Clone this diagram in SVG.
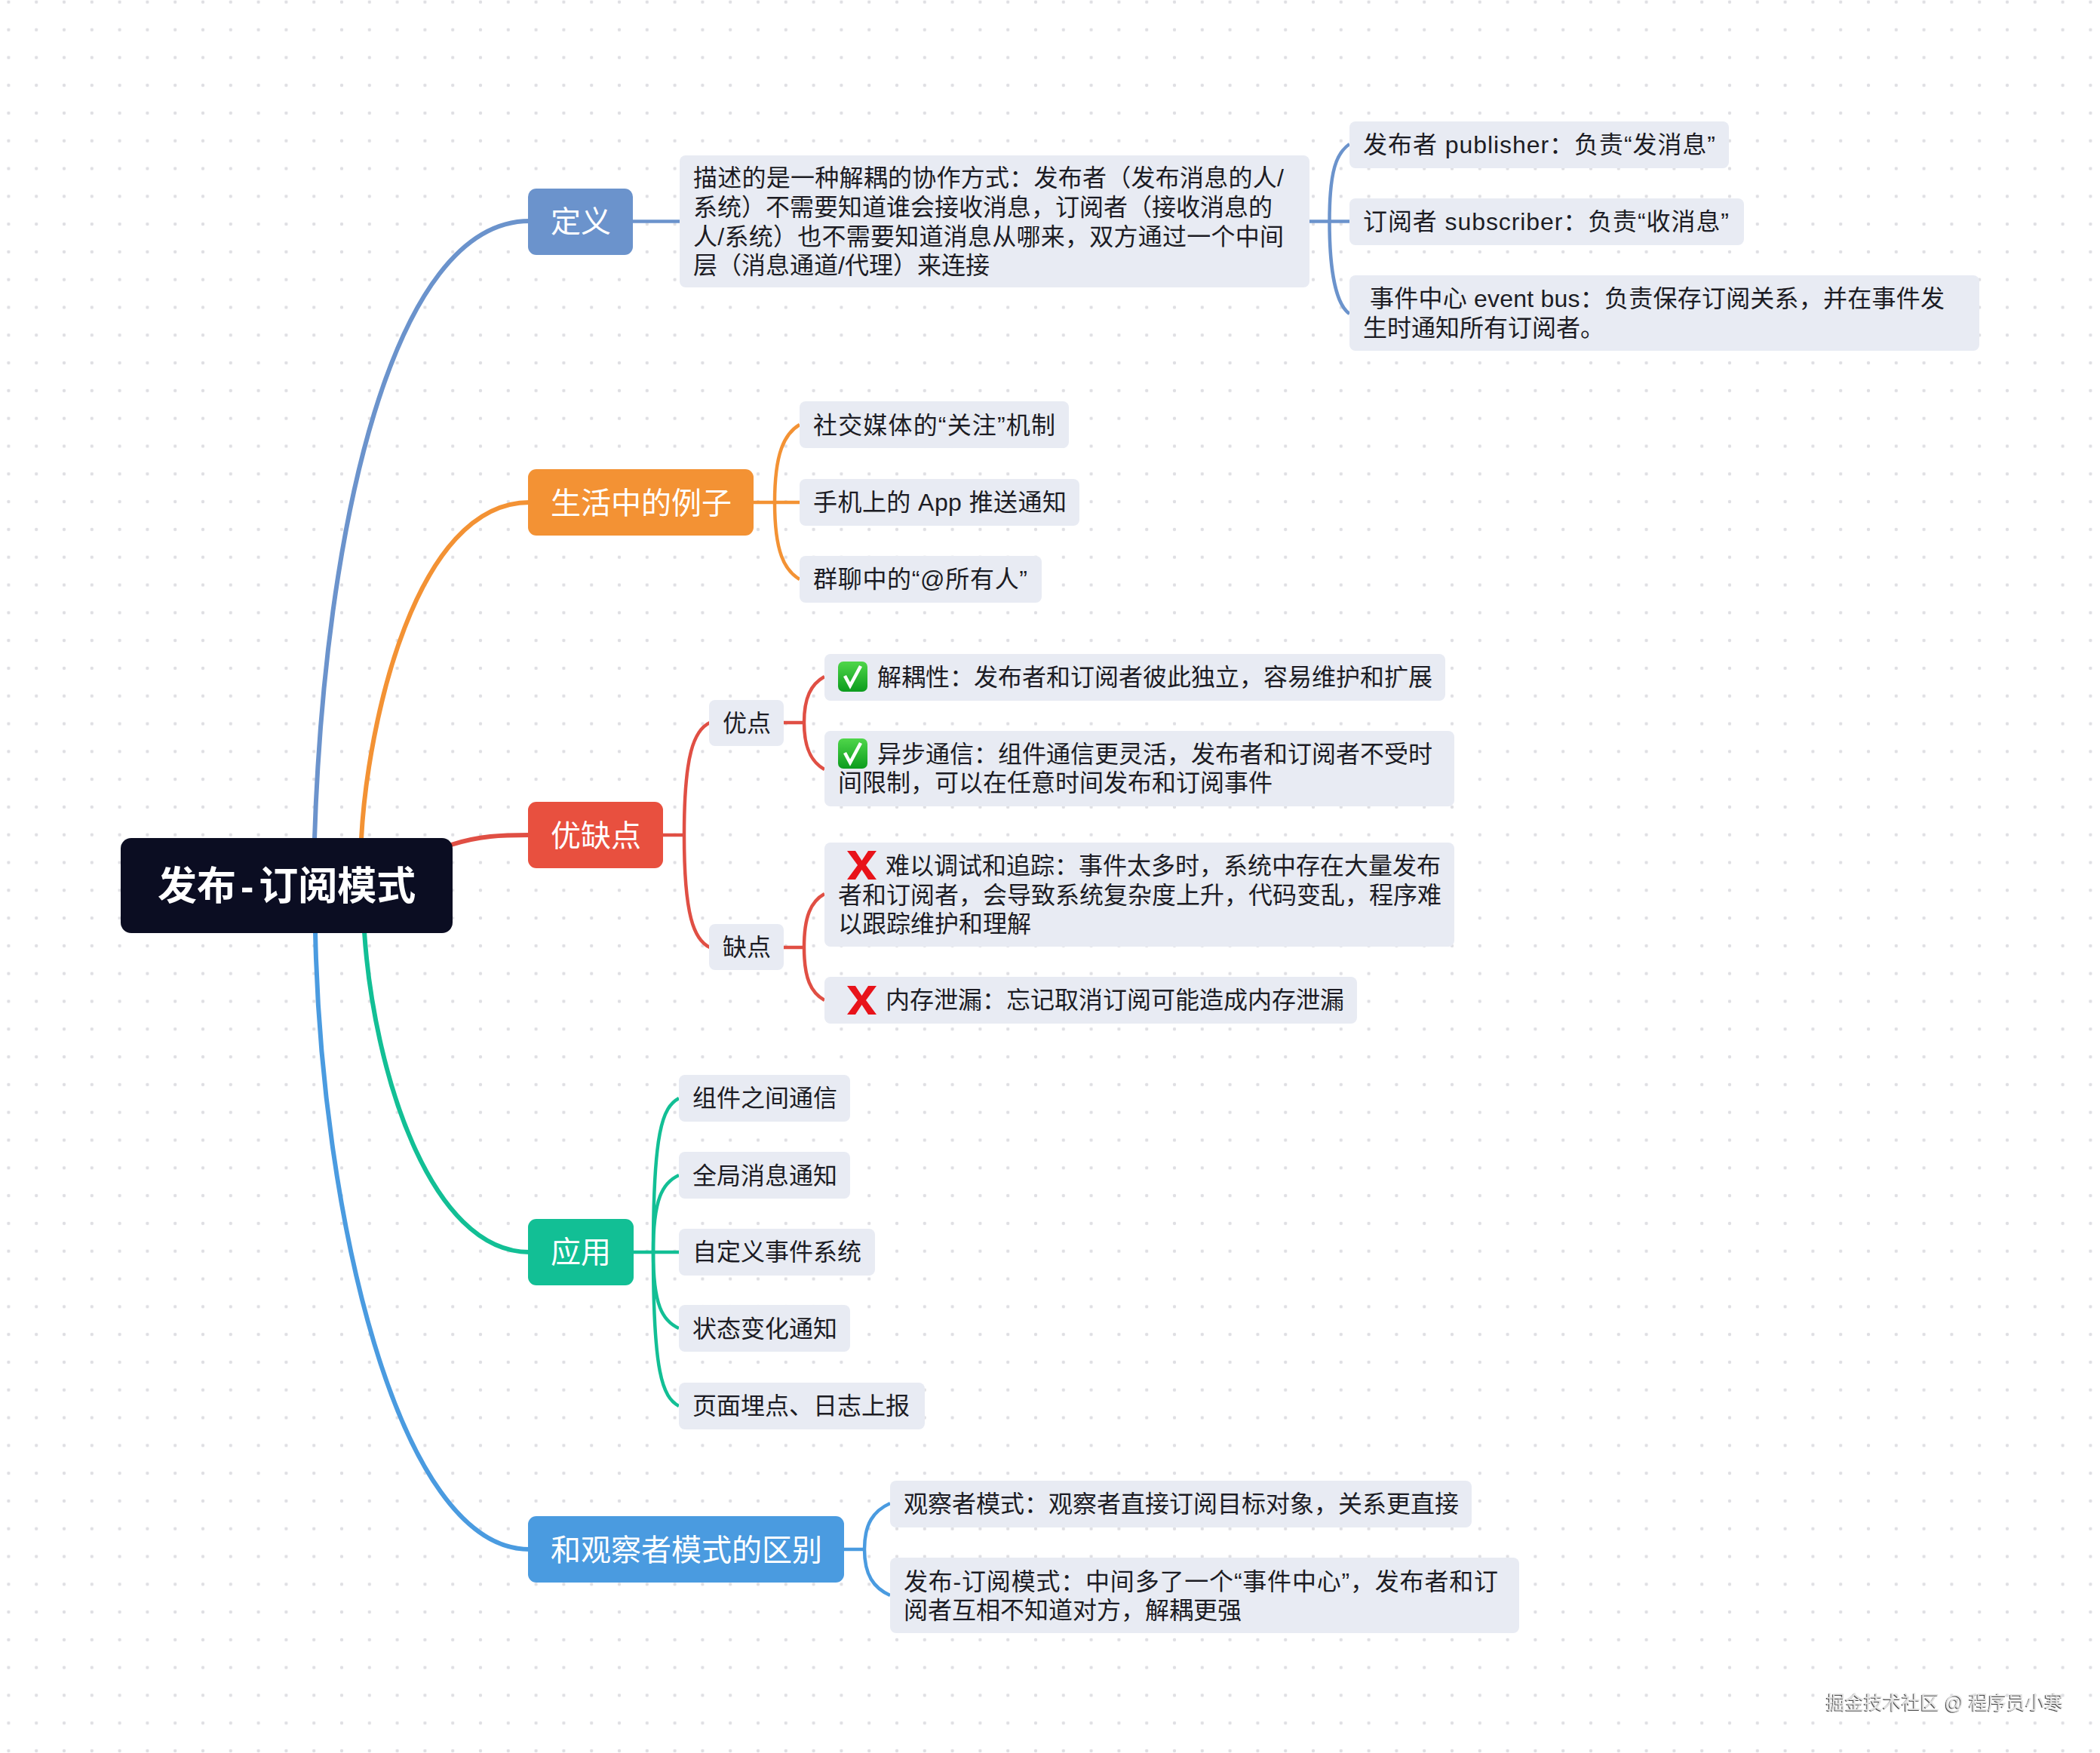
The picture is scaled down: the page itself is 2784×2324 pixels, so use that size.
<svg xmlns="http://www.w3.org/2000/svg" width="2784" height="2324" viewBox="0 0 2784 2324">
<defs>
<pattern id="dots" x="11.4" y="2.7" width="36.8" height="36.8" patternUnits="userSpaceOnUse"><circle cx="0" cy="0" r="2.2" fill="#dfdfe3"/><circle cx="36.8" cy="0" r="2.2" fill="#dfdfe3"/><circle cx="0" cy="36.8" r="2.2" fill="#dfdfe3"/><circle cx="36.8" cy="36.8" r="2.2" fill="#dfdfe3"/></pattern>
<filter id="emboss" x="-5%" y="-20%" width="110%" height="140%"><feDropShadow dx="-1.2" dy="1" stdDeviation="0.4" flood-color="#444"/></filter>
<linearGradient id="gr" x1="0" y1="0" x2="0" y2="1"><stop offset="0" stop-color="#4fd64a"/><stop offset="1" stop-color="#0c9c1e"/></linearGradient>
<g id="check"><rect width="39" height="40" rx="7" fill="url(#gr)"/><path d="M9,19 L16,32 L30,6" fill="none" stroke="#fff" stroke-width="4.5"/></g>
<path id="cross" d="M0,0 H11 L19.500,13 L28,0 H39 L25,19 L39,38 H28 L19.500,25 L11,38 H0 L14,19 Z" fill="#e8131a"/>
</defs>
<style>
text{font-family:"Liberation Sans","Noto Sans CJK SC",sans-serif;white-space:pre}
.leaf{fill:#e8ebf3}
.t{font-size:32px;fill:#1c1c24}
.m{font-size:40px;fill:#fff}
.r{font-size:52px;font-weight:700;fill:#fff}
.wm{font-size:25px;fill:#e4e4e4;filter:url(#emboss)}
#connectors path{fill:none;stroke-linecap:butt}
.w1{stroke-width:6}.w2{stroke-width:4.5}
.c1{stroke:#6b93cc}.c2{stroke:#f39234}.c3{stroke:#e04f44}.c4{stroke:#12bf95}.c5{stroke:#4a9be0}
</style>
<rect width="2784" height="2324" fill="#fff"/>
<rect width="2784" height="2324" fill="url(#dots)"/>

<g id="connectors">
<path class="c1 w1" d="M417,1112 C430,700 520,293 702,293"/>
<path class="c2 w1" d="M479,1112 C487,960 550,666 702,666"/>
<path class="c3 w1" d="M598,1120 C635,1108 665,1107 702,1107"/>
<path class="c4 w1" d="M483,1235 C495,1420 570,1660 702,1660"/>
<path class="c5 w1" d="M418,1235 C425,1600 525,2054 702,2054"/>

<path class="c1 w2" d="M839,293.500H901"/>
<path class="c1 w2" d="M1735,293.500H1789"/>
<path class="c1 w2" d="M1789,191 C1772,203 1762.500,225 1762.500,293.500 C1762.500,362 1772,404 1789,416"/>

<path class="c2 w2" d="M999,666H1060"/>
<path class="c2 w2" d="M1060,563 C1040,575 1027,600 1027,666 C1027,732 1040,756 1060,768"/>

<path class="c3 w2" d="M879,1107H907"/>
<path class="c3 w2" d="M941,958 C920,968 907,1000 907,1107 C907,1214 920,1246 941,1256"/>
<path class="c3 w2" d="M1039,958H1066"/>
<path class="c3 w2" d="M1093,897 C1075,907 1066,925 1066,958 C1066,991 1075,1010 1093,1020"/>
<path class="c3 w2" d="M1039,1256H1066"/>
<path class="c3 w2" d="M1093,1185 C1075,1195 1066,1215 1066,1256 C1066,1297 1075,1316 1093,1326"/>

<path class="c4 w2" d="M840,1660H900"/>
<path class="c4 w2" d="M900,1456 C878,1468 866,1500 866,1660 C866,1820 878,1852 900,1864"/>
<path class="c4 w2" d="M900,1558 C878,1568 866,1590 866,1660 C866,1730 878,1751 900,1761"/>

<path class="c5 w2" d="M1119,2054H1146"/>
<path class="c5 w2" d="M1180,1993 C1158,2003 1146,2020 1146,2054 C1146,2088 1158,2105 1180,2115"/>
</g>

<g id="root"><rect x="160" y="1111" width="440" height="126" rx="14" fill="#0b0d22"/><text class="r" x="209" y="1193">发布<tspan dx="6">-</tspan><tspan dx="7">订阅模式</tspan></text></g>

<g id="n-def"><rect x="700" y="250" width="139" height="88" rx="11" fill="#6b93cc"/><text class="m" x="730" y="308">定义</text></g>
<g id="n-def-desc"><rect class="leaf" x="901" y="206" width="835" height="175" rx="8"/>
<text class="t"><tspan x="919" y="247" textLength="783">描述的是一种解耦的协作方式：发布者（发布消息的人/</tspan><tspan x="919" y="286">系统）不需要知道谁会接收消息，订阅者（接收消息的</tspan><tspan x="919" y="325" textLength="783">人/系统）也不需要知道消息从哪来，双方通过一个中间</tspan><tspan x="919" y="363">层（消息通道/代理）来连接</tspan></text></g>
<g id="n-def-pub"><rect class="leaf" x="1789" y="161" width="503" height="62" rx="8"/><text class="t" x="1807" y="203" textLength="467">发布者 publisher：负责“发消息”</text></g>
<g id="n-def-sub"><rect class="leaf" x="1789" y="263" width="523" height="62" rx="8"/><text class="t" x="1807" y="305" textLength="485">订阅者 subscriber：负责“收消息”</text></g>
<g id="n-def-bus"><rect class="leaf" x="1789" y="365" width="835" height="100" rx="8"/>
<text class="t"><tspan x="1816" y="407" textLength="762">事件中心 event bus：负责保存订阅关系，并在事件发</tspan><tspan x="1807" y="446">生时通知所有订阅者。</tspan></text></g>

<g id="n-life"><rect x="700" y="622" width="299" height="88" rx="11" fill="#f39234"/><text class="m" x="730" y="681">生活中的例子</text></g>
<g id="n-life-1"><rect class="leaf" x="1060" y="532" width="357" height="62" rx="8"/><text class="t" x="1078" y="575" textLength="321">社交媒体的“关注”机制</text></g>
<g id="n-life-2"><rect class="leaf" x="1060" y="635" width="371" height="62" rx="8"/><text class="t" x="1078" y="677" textLength="336">手机上的 App 推送通知</text></g>
<g id="n-life-3"><rect class="leaf" x="1060" y="737" width="321" height="62" rx="8"/><text class="t" x="1078" y="779" textLength="284">群聊中的“@所有人”</text></g>

<g id="n-pc"><rect x="700" y="1063" width="179" height="88" rx="11" fill="#e8503f"/><text class="m" x="730" y="1122">优缺点</text></g>
<g id="n-pro"><rect class="leaf" x="940" y="928" width="99" height="61" rx="8"/><text class="t" x="958" y="970">优点</text></g>
<g id="n-con"><rect class="leaf" x="940" y="1225" width="99" height="61" rx="8"/><text class="t" x="958" y="1267">缺点</text></g>
<g id="n-pro-1"><rect class="leaf" x="1093" y="867" width="823" height="62" rx="8"/><use href="#check" x="1111" y="877"/><text class="t" x="1163" y="909">解耦性：发布者和订阅者彼此独立，容易维护和扩展</text></g>
<g id="n-pro-2"><rect class="leaf" x="1093" y="969" width="835" height="100" rx="8"/><use href="#check" x="1111" y="979"/>
<text class="t"><tspan x="1163" y="1011">异步通信：组件通信更灵活，发布者和订阅者不受时</tspan><tspan x="1111" y="1049">间限制，可以在任意时间发布和订阅事件</tspan></text></g>
<g id="n-con-1"><rect class="leaf" x="1093" y="1117" width="835" height="138" rx="8"/><use href="#cross" x="1123" y="1128"/>
<text class="t"><tspan x="1174" y="1159">难以调试和追踪：事件太多时，系统中存在大量发布</tspan><tspan x="1111" y="1198">者和订阅者，会导致系统复杂度上升，代码变乱，程序难</tspan><tspan x="1111" y="1236">以跟踪维护和理解</tspan></text></g>
<g id="n-con-2"><rect class="leaf" x="1093" y="1295" width="706" height="62" rx="8"/><use href="#cross" x="1123" y="1307"/><text class="t" x="1174" y="1337">内存泄漏：忘记取消订阅可能造成内存泄漏</text></g>

<g id="n-app"><rect x="700" y="1616" width="140" height="88" rx="11" fill="#12bf95"/><text class="m" x="730" y="1674">应用</text></g>
<g id="n-app-1"><rect class="leaf" x="900" y="1425" width="227" height="62" rx="8"/><text class="t" x="918" y="1467">组件之间通信</text></g>
<g id="n-app-2"><rect class="leaf" x="900" y="1527" width="227" height="62" rx="8"/><text class="t" x="918" y="1570">全局消息通知</text></g>
<g id="n-app-3"><rect class="leaf" x="900" y="1629" width="260" height="62" rx="8"/><text class="t" x="918" y="1671">自定义事件系统</text></g>
<g id="n-app-4"><rect class="leaf" x="900" y="1730" width="227" height="62" rx="8"/><text class="t" x="918" y="1773">状态变化通知</text></g>
<g id="n-app-5"><rect class="leaf" x="900" y="1833" width="326" height="62" rx="8"/><text class="t" x="918" y="1875">页面埋点、日志上报</text></g>

<g id="n-diff"><rect x="700" y="2010" width="419" height="88" rx="11" fill="#4a9be0"/><text class="m" x="730" y="2069">和观察者模式的区别</text></g>
<g id="n-diff-1"><rect class="leaf" x="1180" y="1963" width="771" height="62" rx="8"/><text class="t" x="1198" y="2005">观察者模式：观察者直接订阅目标对象，关系更直接</text></g>
<g id="n-diff-2"><rect class="leaf" x="1180" y="2065" width="834" height="100" rx="8"/>
<text class="t"><tspan x="1198" y="2108" textLength="788">发布-订阅模式：中间多了一个“事件中心”，发布者和订</tspan><tspan x="1198" y="2146">阅者互相不知道对方，解耦更强</tspan></text></g>

<text class="wm" x="2421" y="2266">掘金技术社区 @ 程序员小寒</text>
</svg>
